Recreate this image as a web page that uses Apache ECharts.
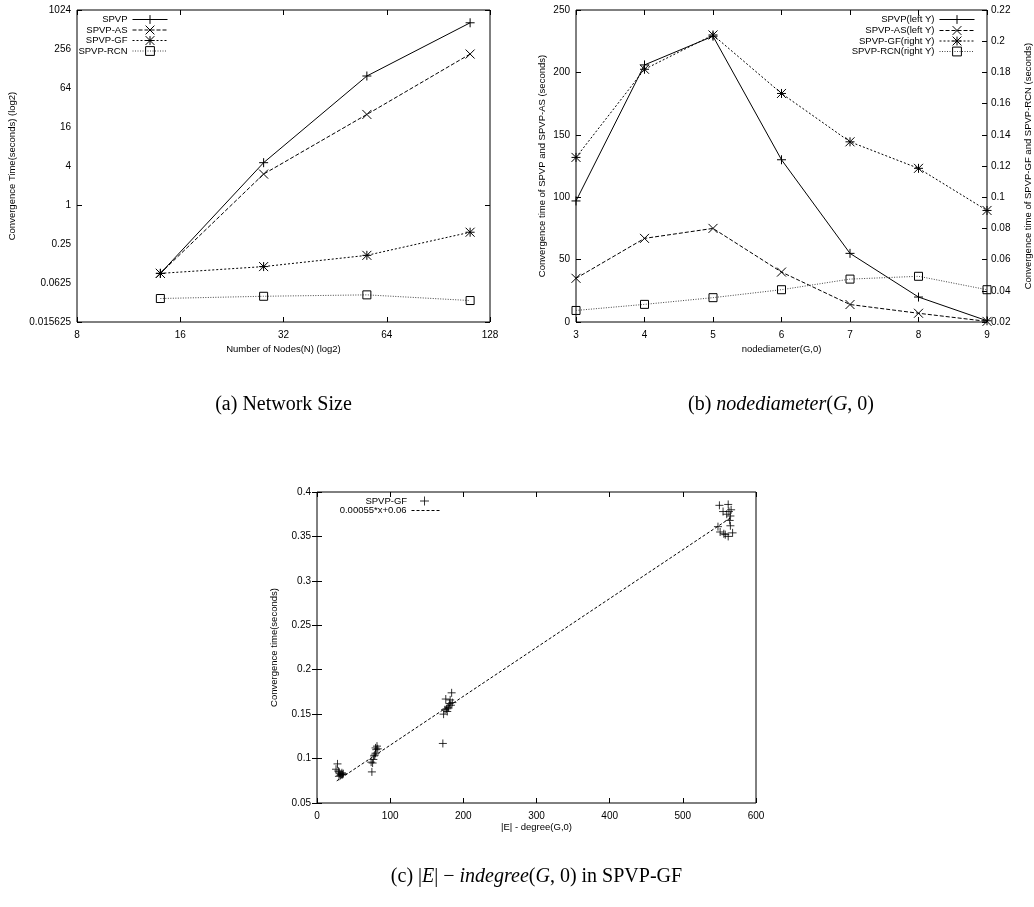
<!DOCTYPE html>
<html><head><meta charset="utf-8">
<script src="https://cdn.jsdelivr.net/npm/echarts@6/dist/echarts.min.js"></script>
<style>html,body{margin:0;padding:0;background:#fff}#c{width:1034px;height:907px}</style>
</head><body><div id="c"></div>
<script>
// ---------- (a) Network Size ----------
const nodeCounts = [14, 28, 56, 112];
const sizeSPVP = [0.088, 4.5, 98, 650];
const sizeAS = [0.088, 3.0, 25, 214];
const sizeGF = [0.088, 0.112, 0.167, 0.38];
const sizeRCN = [0.036, 0.039, 0.041, 0.0335];
const sizeXTicks = [8, 16, 32, 64, 128];
const sizeYTicks = [0.015625, 0.0625, 0.25, 1, 4, 16, 64, 256, 1024];

// ---------- (b) nodediameter(G,0) ----------
const diameters = [3, 4, 5, 6, 7, 8, 9];
const diamSPVP = [97, 206, 229, 130, 55, 20, 1];
const diamAS = [35, 67, 75, 40, 14, 7, 0.5];
const diamGF = [0.1255, 0.182, 0.204, 0.1665, 0.1355, 0.1185, 0.0915];
const diamRCN = [0.0274, 0.0313, 0.0356, 0.0407, 0.0475, 0.0493, 0.0407];
const diamLeftTicks = [0, 250];
const diamRightTicks = [0.02, 0.22];

// ---------- (c) |E| - indegree(G,0) in SPVP-GF ----------
const gfEdges = [26, 28, 29, 30, 30, 31, 32, 33, 34, 35, 36,
  74, 75, 76, 77, 78, 79, 80, 80, 81, 82, 83,
  172, 173, 175, 176, 177, 178, 179, 180, 181, 182, 183, 184, 185,
  548, 550, 551, 555, 556, 558, 560, 562, 562, 563, 564, 565, 565, 566, 568];
const gfTimes = [0.088, 0.094, 0.086, 0.085, 0.080, 0.083, 0.081, 0.082, 0.084, 0.082, 0.083,
  0.096, 0.085, 0.095, 0.099, 0.103, 0.104, 0.106, 0.112, 0.110, 0.114, 0.111,
  0.117, 0.150, 0.155, 0.167, 0.156, 0.153, 0.158, 0.157, 0.162, 0.166, 0.160, 0.174, 0.163,
  0.361, 0.385, 0.355, 0.378, 0.353, 0.352, 0.375, 0.386, 0.350, 0.378, 0.368, 0.373, 0.362, 0.380, 0.354];
const fitX = [27, 567];
const fitY = [0.0749, 0.3719];

// ---------- styling ----------
const FONT = "'Liberation Sans', Arial, Helvetica, sans-serif";
const SERIF = "'Liberation Serif', 'Times New Roman', serif";
const PLUS = 'path://M5,0L5,10M0,5L10,5';
const CROSS = 'path://M0,0L10,10M10,0L0,10';
const STAR = 'path://M5,0L5,10M0,5L10,5M0,0L10,10M10,0L0,10';
const SQUARE = 'path://M0,0L10,0L10,10L0,10Z';
const DASH_AS = [4, 2], DASH_GF = [2, 2], DASH_RCN = [1, 1.5], DASH_FIT = [3, 2];
const markStyle = {color: 'transparent', borderColor: '#000', borderWidth: 1};

const tickStyle = {show: true, inside: true, length: 5, lineStyle: {color: '#000', width: 1}};
const labelStyle = {color: '#000', fontFamily: FONT, fontSize: 10};
const nameStyle = {color: '#000', fontFamily: FONT, fontSize: 9.5};
const logFmt = v => String(+(+v).toPrecision(8));

function tickAxis(extra) {
  return Object.assign({axisLabel: {show: false}, axisLine: {show: false}, splitLine: {show: false},
    axisTick: tickStyle}, extra);
}
function labelAxis(extra) {
  return Object.assign({axisLine: {show: false}, splitLine: {show: false}, axisTick: tickStyle,
    nameTextStyle: nameStyle, nameLocation: 'middle'}, extra);
}
function lineSeries(name, xs, ys, xi, yi, symbol, dash, color, size) {
  return {type: 'line', name, xAxisIndex: xi, yAxisIndex: yi, data: xs.map((x, i) => [x, ys[i]]),
    symbol, symbolSize: size || 9, showAllSymbol: true, clip: false, animation: false,
    itemStyle: markStyle, lineStyle: {color: color || '#000', width: 1, type: dash},
    emphasis: {disabled: true}};
}
function legendItem(name, right, cy, dash, color, extra) {
  return Object.assign({data: [name], selectedMode: false, orient: 'horizontal', align: 'right',
    right, top: cy - 5.5, padding: 0, itemWidth: 35, itemHeight: 11, itemGap: 0,
    textStyle: {fontFamily: FONT, fontSize: 9.5, color: '#000'},
    itemStyle: {color: 'transparent', borderColor: '#000', borderWidth: 1},
    lineStyle: {color: color || '#000', width: 1, type: dash}}, extra || {});
}

const W = 1034;
const option = {
  animation: false,
  backgroundColor: '#fff',
  grid: [
    {left: 77, top: 10, width: 413, height: 312, show: true, borderColor: '#000', borderWidth: 1, containLabel: false},
    {left: 576, top: 10, width: 411, height: 312, show: true, borderColor: '#000', borderWidth: 1, containLabel: false},
    {left: 317, top: 492, width: 439, height: 311, show: true, borderColor: '#000', borderWidth: 1, containLabel: false}
  ],
  xAxis: [
    labelAxis({gridIndex: 0, type: 'log', logBase: 2, position: 'bottom', min: sizeXTicks[0], max: sizeXTicks[sizeXTicks.length - 1],
      splitNumber: sizeXTicks.length - 1, axisLabel: Object.assign({margin: 8, formatter: logFmt}, labelStyle),
      name: 'Number of Nodes(N) (log2)', nameGap: 22}),
    tickAxis({gridIndex: 0, type: 'log', logBase: 2, position: 'top', min: sizeXTicks[0], max: sizeXTicks[sizeXTicks.length - 1], splitNumber: sizeXTicks.length - 1}),
    labelAxis({gridIndex: 1, type: 'value', position: 'bottom', min: diameters[0], max: diameters[diameters.length - 1], interval: 1,
      axisLabel: Object.assign({margin: 8}, labelStyle), name: 'nodediameter(G,0)', nameGap: 22}),
    tickAxis({gridIndex: 1, type: 'value', position: 'top', min: diameters[0], max: diameters[diameters.length - 1], interval: 1}),
    labelAxis({gridIndex: 2, type: 'value', position: 'bottom', min: 0, max: 600, interval: 100,
      axisLabel: Object.assign({margin: 8}, labelStyle), name: '|E| - degree(G,0)', nameGap: 16}),
    tickAxis({gridIndex: 2, type: 'value', position: 'top', min: 0, max: 600, interval: 100})
  ],
  yAxis: [
    labelAxis({gridIndex: 0, type: 'log', logBase: 4, position: 'left', min: sizeYTicks[0], max: sizeYTicks[sizeYTicks.length - 1],
      splitNumber: sizeYTicks.length - 1, axisTick: {show: false},
      axisLabel: Object.assign({margin: 6, formatter: logFmt}, labelStyle),
      name: 'Convergence Time(seconds) (log2)', nameGap: 60}),
    tickAxis({gridIndex: 0, type: 'log', logBase: 2, position: 'left', min: sizeYTicks[0], max: sizeYTicks[sizeYTicks.length - 1], splitNumber: 16}),
    tickAxis({gridIndex: 0, type: 'log', logBase: 2, position: 'right', min: sizeYTicks[0], max: sizeYTicks[sizeYTicks.length - 1], splitNumber: 16}),
    labelAxis({gridIndex: 1, type: 'value', position: 'left', min: diamLeftTicks[0], max: diamLeftTicks[1], interval: 50,
      axisLabel: Object.assign({margin: 6}, labelStyle), name: 'Convergence time of SPVP and SPVP-AS (seconds)', nameGap: 29}),
    labelAxis({gridIndex: 1, type: 'value', position: 'right', min: diamRightTicks[0], max: diamRightTicks[1], interval: 0.02,
      axisLabel: Object.assign({margin: 4}, labelStyle), name: 'Convergence time of SPVP-GF and SPVP-RCN (seconds)', nameGap: 36}),
    labelAxis({gridIndex: 2, type: 'value', position: 'left', min: 0.05, max: 0.4, interval: 0.05,
      axisLabel: Object.assign({margin: 6}, labelStyle), name: 'Convergence time(seconds)', nameGap: 38}),
    tickAxis({gridIndex: 2, type: 'value', position: 'right', min: 0.05, max: 0.4, interval: 0.05})
  ],
  legend: [
    legendItem('SPVP', W - 168, 20, 'solid'),
    legendItem('SPVP-AS', W - 168, 30.5, DASH_AS),
    legendItem('SPVP-GF', W - 168, 41, DASH_GF),
    legendItem('SPVP-RCN', W - 168, 51.5, DASH_RCN, '#444'),
    legendItem('SPVP(left Y)', W - 975, 20, 'solid'),
    legendItem('SPVP-AS(left Y)', W - 975, 31, DASH_AS),
    legendItem('SPVP-GF(right Y)', W - 975, 41.5, DASH_GF),
    legendItem('SPVP-RCN(right Y)', W - 975, 52, DASH_RCN, '#444'),
    legendItem('SPVP-GF ', W - 429.5, 500.5, 'solid', '#000', {itemWidth: 9, itemHeight: 9, top: 496, formatter: n => n + '  '}),
    legendItem('0.00055*x+0.06', W - 440, 511, DASH_FIT, '#000', {itemWidth: 28, itemStyle: {color: 'transparent', borderWidth: 0, opacity: 0}})
  ],
  series: [
    lineSeries('SPVP', nodeCounts, sizeSPVP, 0, 0, PLUS, 'solid'),
    lineSeries('SPVP-AS', nodeCounts, sizeAS, 0, 0, CROSS, DASH_AS),
    lineSeries('SPVP-GF', nodeCounts, sizeGF, 0, 0, STAR, DASH_GF),
    lineSeries('SPVP-RCN', nodeCounts, sizeRCN, 0, 0, SQUARE, DASH_RCN, '#444', 8),
    lineSeries('SPVP(left Y)', diameters, diamSPVP, 2, 3, PLUS, 'solid'),
    lineSeries('SPVP-AS(left Y)', diameters, diamAS, 2, 3, CROSS, DASH_AS),
    lineSeries('SPVP-GF(right Y)', diameters, diamGF, 2, 4, STAR, DASH_GF),
    lineSeries('SPVP-RCN(right Y)', diameters, diamRCN, 2, 4, SQUARE, DASH_RCN, '#444', 8),
    {type: 'scatter', name: 'SPVP-GF ', xAxisIndex: 4, yAxisIndex: 5, data: gfEdges.map((x, i) => [x, gfTimes[i]]),
      symbol: PLUS, symbolSize: 8, itemStyle: markStyle, emphasis: {disabled: true}},
    {type: 'line', name: '0.00055*x+0.06', xAxisIndex: 4, yAxisIndex: 5, data: fitX.map((x, i) => [x, fitY[i]]),
      showSymbol: false, symbol: 'none', itemStyle: {color: 'transparent', opacity: 0},
      lineStyle: {color: '#000', width: 1, type: DASH_FIT}, emphasis: {disabled: true}}
  ],
  graphic: [
    {type: 'text', x: 283.5, y: 405, style: {text: '(a) Network Size', font: '20px ' + SERIF, fill: '#000', textAlign: 'center', textVerticalAlign: 'middle'}},
    {type: 'text', x: 781, y: 405, style: {text: '{n|(b) }{i|nodediameter}{n|(}{i|G}{n|, 0)}',
      rich: {n: {fontFamily: SERIF, fontSize: 20, fill: '#000'}, i: {fontFamily: SERIF, fontSize: 20, fontStyle: 'italic', fill: '#000'}},
      textAlign: 'center', textVerticalAlign: 'middle'}},
    {type: 'text', x: 536.5, y: 877, style: {text: '{n|(c) |}{i|E}{n|| \u2212 }{i|indegree}{n|(}{i|G}{n|, 0) in SPVP-GF}',
      rich: {n: {fontFamily: SERIF, fontSize: 20, fill: '#000'}, i: {fontFamily: SERIF, fontSize: 20, fontStyle: 'italic', fill: '#000'}},
      textAlign: 'center', textVerticalAlign: 'middle'}}
  ]
};
const chart = echarts.init(document.getElementById('c'), null, {renderer: 'canvas'});
chart.setOption(option);
</script></body></html>
